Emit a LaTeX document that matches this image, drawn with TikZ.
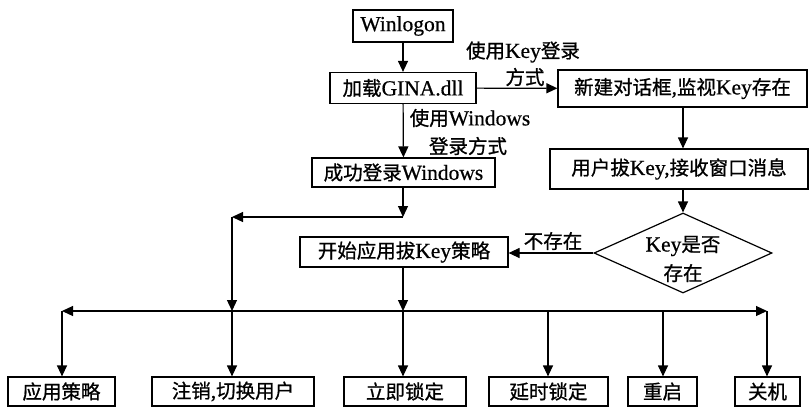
\documentclass[tikz,border=0pt]{standalone}
\usepackage{fontspec}
\setmainfont[FakeBold=0.6]{Liberation Serif}
\newfontfamily\cjk[FakeBold=0.9]{Noto Sans CJK SC}
\newcommand{\zh}[1]{{\fontsize{19.5}{23}\cjk #1}}
\usetikzlibrary{arrows.meta,shapes.geometric}
\begin{document}
\begin{tikzpicture}[x=1pt,y=-1pt,
  box/.style={draw, line width=1.2pt, inner sep=0pt, font=\fontsize{21.5}{24}\selectfont},
  arr/.style={-{Triangle[length=11pt,width=10pt]}, line width=1.2pt},
  lbl/.style={font=\fontsize{21.5}{24}\selectfont, inner sep=0pt}]
\useasboundingbox (0,0) rectangle (809,408);
% boxes
\node[box, minimum width=100pt, minimum height=32pt] (win) at (403,26) {Winlogon};
\node[box, minimum width=146pt, minimum height=31pt] (gina) at (403,88) {\zh{加载}GINA.dll};
\node[box, minimum width=249pt, minimum height=37pt] (newdlg) at (682.5,88.5) {\zh{新建对话框},\zh{监视}Key\zh{存在}};
\node[box, minimum width=183pt, minimum height=29pt] (ok) at (403.5,172.5) {\zh{成功登录}Windows};
\node[box, minimum width=258pt, minimum height=40pt] (pull) at (679,169) {\zh{用户拔}Key,\zh{接收窗口消息}};
\node[box, minimum width=208pt, minimum height=30pt] (start) at (404,252) {\zh{开始应用拔}Key\zh{策略}};
\node[draw, line width=1.2pt, diamond, minimum width=178pt, minimum height=80pt, inner sep=0pt] (dia) at (683,253) {};
\node[lbl, align=center] (diatext) at (683,259) {Key\zh{是否}\\[5pt]\zh{存在}};
% bottom boxes
\node[box, minimum width=107pt, minimum height=29pt] (b1) at (61.5,391.5) {\zh{应用策略}};
\node[box, minimum width=162pt, minimum height=29pt] (b2) at (233,391.5) {\zh{注销},\zh{切换用户}};
\node[box, minimum width=122pt, minimum height=29pt] (b3) at (405,391.5) {\zh{立即锁定}};
\node[box, minimum width=119pt, minimum height=29pt] (b4) at (548.5,391.5) {\zh{延时锁定}};
\node[box, minimum width=69pt, minimum height=29pt] (b5) at (662.5,391.5) {\zh{重启}};
\node[box, minimum width=65pt, minimum height=29pt] (b6) at (767.5,391.5) {\zh{关机}};
% labels
\node[lbl] (lkey1) at (523,52) {\zh{使用}Key\zh{登录}};
\node[lbl] (lkey2) at (525,77) {\zh{方式}};
\node[lbl] (lwin1) at (470,118) {\zh{使用}Windows};
\node[lbl] (lwin2) at (468,146) {\zh{登录方式}};
\node[lbl] (lno) at (553,241) {\zh{不存在}};
% junction coordinates
\coordinate (j1) at (403,217);
\coordinate (j2) at (232,217);
\coordinate (j3) at (232,311);
\coordinate (j4) at (403,311);
\coordinate (j5) at (62,311);
\coordinate (j6) at (767,311);
\coordinate (j7) at (548,311);
\coordinate (j8) at (663,311);
\coordinate (c1) at (newdlg.south -| dia.north);
\coordinate (c2) at (pull.south -| dia.north);
% connectors
\draw[arr] (win) -- (gina);
\draw[arr] (gina) -- (newdlg);
\draw[arr] (gina) -- (ok);
\draw[arr] (c1) -- (c1 |- pull.north);
\draw[arr] (c2) -- (dia.north);
\draw[arr] (dia.west) -- (dia.west -| start.east);
\draw[arr] (ok.south -| j1) -- (j1);
\draw[arr] (j1) -- (j2);
\draw[arr] (j2) -- (j3);
\draw[arr] (j3) -- (b2.north -| j3);
\draw[arr] (start.south -| j4) -- (j4);
\draw[arr] (j4) -- (b3.north -| j4);
\draw[arr] (j4) -- (j5);
\draw[arr] (j5) -- (b1.north -| j5);
\draw[arr] (j4) -- (j6);
\draw[arr] (j6) -- (b6.north -| j6);
\draw[arr] (j7) -- (b4.north -| j7);
\draw[arr] (j8) -- (b5.north -| j8);
\end{tikzpicture}
\end{document}
